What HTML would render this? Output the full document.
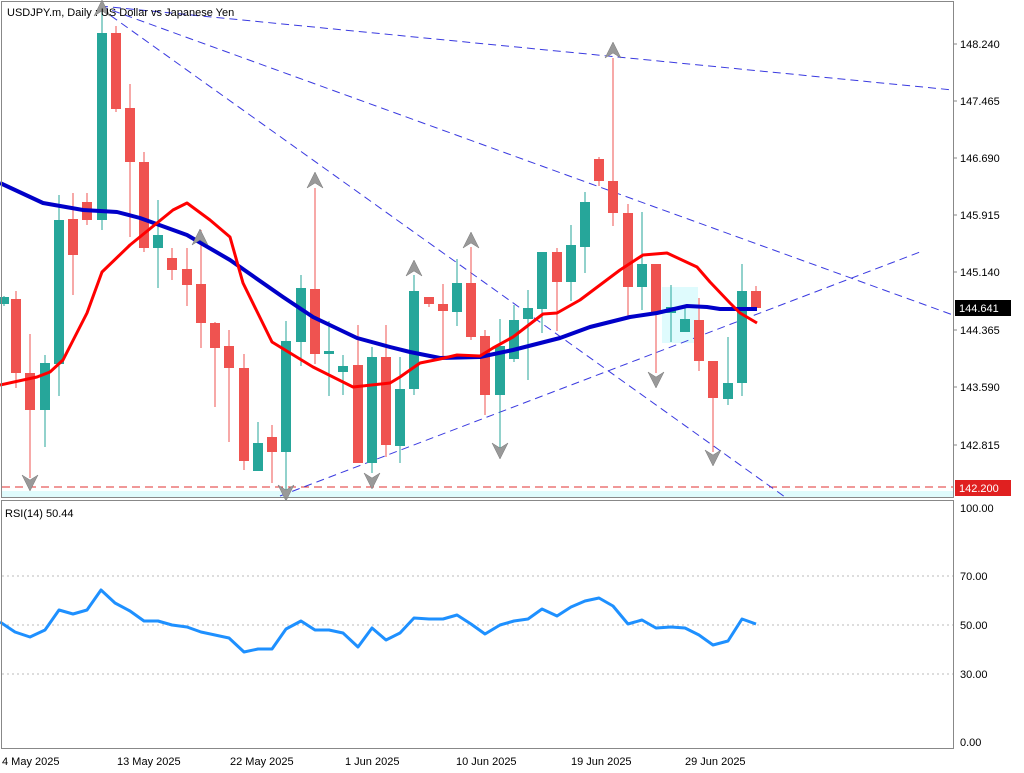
<!DOCTYPE html>
<html><head><meta charset="utf-8"><style>
body{margin:0;background:#fff}
svg{display:block;font-family:"Liberation Sans",sans-serif}
</style></head><body>
<svg id="s" width="1024" height="773" viewBox="0 0 1024 773" xmlns="http://www.w3.org/2000/svg">
<rect width="1024" height="773" fill="#fff"/>
<g id="main"></g>
<rect x="1.5" y="1.5" width="952" height="496" fill="none" stroke="#888" stroke-width="1"/>
<rect x="1.5" y="500.5" width="952" height="248" fill="none" stroke="#888" stroke-width="1"/>
<g font-size="11" fill="#000">
<text x="7" y="16">USDJPY.m, Daily : US Dollar vs Japanese Yen</text>
<text x="5" y="517">RSI(14) 50.44</text>
<text x="960" y="48">148.240</text>
<text x="960" y="105">147.465</text>
<text x="960" y="162">146.690</text>
<text x="960" y="219">145.915</text>
<text x="960" y="276">145.140</text>
<text x="960" y="334">144.365</text>
<text x="960" y="391">143.590</text>
<text x="960" y="449">142.815</text>
<text x="960" y="512">100.00</text>
<text x="960" y="580">70.00</text>
<text x="960" y="629">50.00</text>
<text x="960" y="678">30.00</text>
<text x="960" y="746">0.00</text>
<text x="2" y="765">4 May 2025</text>
<text x="117" y="765">13 May 2025</text>
<text x="230" y="765">22 May 2025</text>
<text x="345" y="765">1 Jun 2025</text>
<text x="456" y="765">10 Jun 2025</text>
<text x="571" y="765">19 Jun 2025</text>
<text x="685" y="765">29 Jun 2025</text>
</g>
<rect x="955" y="300" width="56" height="16" fill="#000"/>
<text x="959" y="312" font-size="11" fill="#fff">144.641</text>
<rect x="955" y="480" width="56" height="16" fill="#e02020"/>
<text x="959" y="492" font-size="11" fill="#fff">142.200</text>
</svg>
<script>
var g=document.getElementById('main'),NS='http://www.w3.org/2000/svg';
function el(t,a){var e=document.createElementNS(NS,t);for(var k in a)e.setAttribute(k,a[k]);g.appendChild(e);return e;}
[44,101,158,215,272,330,387,445].forEach(function(y){el('line',{x1:953,y1:y,x2:957,y2:y,stroke:'#888'})});
[576,625,674].forEach(function(y){el('line',{x1:2,y1:y,x2:953,y2:y,stroke:'#bbb','stroke-dasharray':'2,3'})});
el('rect',{x:2,y:491,width:951,height:6,fill:'#e0fbfc'});
el('rect',{x:662,y:287,width:36,height:56,fill:'#dffbfd'});
el('line',{x1:2,y1:487,x2:953,y2:487,stroke:'#e03030','stroke-dasharray':'8,5'});
[[100,6,953,90],[100,6,953,315],[100,8,785,497],[280,496,920,252]].forEach(function(l){
el('line',{x1:l[0],y1:l[1],x2:l[2],y2:l[3],stroke:'#3a3ae0','stroke-width':1,'stroke-dasharray':'8,5'})});
var C=[
[4,304,297,296,306,1],[16,299,373,291,388,0],[30,373,410,334,478,0],[45,410,363,355,447,1],[59,364,220,195,396,1],
[73,219,255,193,295,0],[87,202,220,193,225,0],[102,220,33,10,230,1],[116,33,109,26,112,0],[130,108,162,84,237,0],
[144,162,248,152,252,0],[158,248,235,200,288,1],[172,258,270,248,280,0],[187,269,285,248,306,0],[201,284,323,230,348,0],
[215,323,348,322,407,0],[229,346,368,330,442,0],[244,368,461,354,470,0],[258,471,443,422,471,1],[272,437,452,425,483,0],
[286,452,341,321,495,1],[301,342,288,275,366,1],[315,289,354,188,364,0],[329,354,351,321,396,1],[343,372,366,355,395,1],
[358,365,463,325,463,0],[372,463,357,347,473,1],[386,357,445,325,457,0],[400,446,389,357,463,1],[414,389,291,275,395,1],
[429,297,304,297,307,0],[443,304,311,284,357,0],[457,312,283,259,326,1],[471,283,337,247,340,0],[485,336,395,330,415,0],
[500,395,346,319,458,1],[514,359,320,305,362,1],[528,319,308,290,380,1],[542,309,252,252,333,1],[557,252,282,248,331,0],
[571,282,245,225,301,1],[585,247,202,192,273,1],[599,159,181,157,186,0],[613,181,213,58,226,0],[628,213,287,204,317,0],
[642,287,264,212,310,1],[656,264,313,264,373,0],[671,313,307,285,342,1],[685,332,319,305,332,1],[699,320,361,298,371,0],
[713,361,398,361,452,0],[728,399,383,337,405,1],[742,383,291,264,396,1],[756,291,308,286,308,0]];
C.forEach(function(c){var col=c[5]?'#26a69a':'#ef5350';
el('line',{x1:c[0],y1:c[3],x2:c[0],y2:c[4],stroke:col,'stroke-width':1});
var t=Math.min(c[1],c[2]),b=Math.max(c[1],c[2]);el('rect',{x:c[0]-5,y:t,width:10,height:Math.max(b-t,2),fill:col});});
function pl(p,col,w){el('polyline',{points:p.map(function(a){return a.join(',')}).join(' '),fill:'none',stroke:col,'stroke-width':w,'stroke-linejoin':'round'})}
pl([[0,183],[43,203],[83,210],[117,212],[140,218],[187,235],[230,260],[283,297],[313,317],[357,338],[390,347],[410,352],[440,358],[480,357],[513,350],[560,338],[590,327],[630,317],[657,313],[687,306],[707,307],[720,309],[757,309]],'#0000c8',4);
pl([[0,385],[37,377],[50,372],[63,360],[87,313],[102,272],[130,245],[173,210],[187,203],[210,220],[230,237],[243,283],[272,342],[313,367],[353,387],[390,383],[400,377],[420,363],[440,359],[457,355],[480,356],[493,348],[513,337],[543,314],[557,313],[580,300],[620,270],[643,255],[667,253],[697,267],[710,282],[730,303],[740,313],[757,323]],'#f00',3);
function arr(x,y,up){var d=up?1:-1;el('polygon',{points:[x,y-8*d,x-8,y+8*d,x,y+3*d,x+8,y+8*d].join(','),fill:'#999',stroke:'#777','stroke-width':0.5});}
[[102,8],[315,180],[200,237],[414,268],[471,240],[613,50]].forEach(function(a){arr(a[0],a[1],1)});
[[30,483],[286,493],[372,481],[500,451],[656,380],[713,458]].forEach(function(a){arr(a[0],a[1],0)});
var R=[[0,622],[15,632],[30,637],[45,630],[59,610],[73,614],[87,610],[101,590],[115,603],[130,611],[144,621],[158,621],[172,625],[187,627],[201,632],[215,635],[229,638],[244,652],[258,649],[272,649],[286,629],[301,621],[315,630],[329,630],[343,633],[358,647],[372,628],[386,640],[400,633],[414,618],[429,619],[443,619],[457,615],[471,624],[485,634],[500,625],[514,621],[528,619],[542,609],[557,616],[571,607],[585,601],[599,598],[613,606],[628,624],[642,620],[656,628],[671,627],[685,628],[699,635],[713,645],[728,641],[742,619],[756,624]];
pl(R,'#1e90ff',3);
</script>
</body></html>
